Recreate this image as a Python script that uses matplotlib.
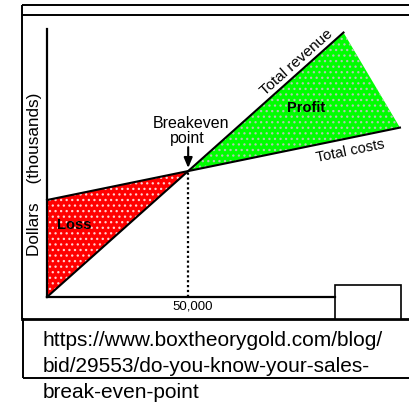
import numpy as np
import matplotlib
matplotlib.use("Agg")
import matplotlib.pyplot as plt
from matplotlib.patches import Rectangle
from matplotlib.transforms import ScaledTranslation

plt.rcParams['font.family'] = ['Liberation Sans', 'DejaVu Sans']
plt.rcParams['hatch.linewidth'] = 0.9

# Breakeven chart: units sold vs dollars (thousands)
breakeven_units = 50000
breakeven_dollars = 500

revenue_units = [0, 50000, 105000]
revenue_dollars = [0, 500, 1050]

cost_units = [0, 50000, 125000]
cost_dollars = [385, 500, 672.5]

x_ticks = [breakeven_units]
x_tick_labels = ['50,000']

source_lines = ['https://www.boxtheorygold.com/blog/',
                'bid/29553/do-you-know-your-sales-',
                'break-even-point']

W, H = 409, 403
fig = plt.figure(figsize=(W / 100, H / 100), dpi=100)
fig.patch.set_facecolor('white')

# frame and caption box, drawn in pixel space
frame = fig.add_axes([0, 0, 1, 1])
frame.set_xlim(0, W)
frame.set_ylim(H, 0)
frame.axis('off')
kw = dict(color='black', lw=1.4, solid_capstyle='butt')
frame.plot([22, W], [5, 5], **kw)
frame.plot([22, W], [14.5, 14.5], **kw)
frame.plot([22, 22], [5, 319], **kw)
frame.plot([22, W], [318.5, 318.5], color='black', lw=2.0)
frame.plot([23, 23], [318, 377.5], **kw)
frame.plot([23, W], [377.5, 377.5], **kw)

# chart area
ax = fig.add_axes([47 / W, (H - 297) / H, 288 / W, 268 / H])
ax.set_facecolor('none')
ax.set_xlim(0, 102000)
ax.set_ylim(0, 1064)
for s in ['top', 'right']:
    ax.spines[s].set_visible(False)
for s in ['left', 'bottom']:
    ax.spines[s].set_linewidth(1.6)
ax.set_yticks([])
ax.set_xticks(x_ticks)
ax.set_xticklabels(x_tick_labels, fontsize=9.5)
ax.tick_params(axis='x', length=0, pad=2.5)
for lab in ax.get_xticklabels():
    lab.set_transform(lab.get_transform() + ScaledTranslation(0.04, 0, fig.dpi_scale_trans))

# loss and profit regions, with a speckled screen over the flat colour
loss_x = [revenue_units[0], cost_units[0], breakeven_units]
loss_y = [revenue_dollars[0], cost_dollars[0], breakeven_dollars]
profit_x = [breakeven_units, revenue_units[-1], cost_units[-1]]
profit_y = [breakeven_dollars, revenue_dollars[-1], cost_dollars[-1]]

ax.fill(loss_x, loss_y, facecolor='#ff0000', lw=0, zorder=1, clip_on=False)
ax.fill(loss_x, loss_y, facecolor='none', edgecolor='#ffd0d0', hatch='...',
        lw=0, zorder=1.5, clip_on=False)
ax.fill(profit_x, profit_y, facecolor='#00ff00', lw=0, zorder=1, clip_on=False)
ax.fill(profit_x, profit_y, facecolor='none', edgecolor='#b0c8b0', hatch='...',
        lw=0, zorder=1.5, clip_on=False)

ax.plot(revenue_units, revenue_dollars, color='black', lw=1.5, zorder=3, clip_on=False)
ax.plot(cost_units, cost_dollars, color='black', lw=1.5, zorder=3, clip_on=False)
ax.plot([breakeven_units, breakeven_units], [0, breakeven_dollars],
        color='black', lw=1.6, ls=(0, (1, 1.2)), zorder=2)


def angle_of(xs, ys):
    p0 = ax.transData.transform((xs[0], ys[0]))
    p1 = ax.transData.transform((xs[-1], ys[-1]))
    return np.degrees(np.arctan2(p1[1] - p0[1], p1[0] - p0[0]))


ax.text(88500, 933, 'Total revenue', fontsize=11, ha='center', va='center',
        rotation=angle_of(revenue_units, revenue_dollars), rotation_mode='anchor')
ax.text(107300, 580, 'Total costs', fontsize=10.5, ha='center', va='center',
        rotation=angle_of(cost_units, cost_dollars), rotation_mode='anchor')
ax.text(91700, 750, 'Profit', fontsize=10.5, fontweight='bold', ha='center', va='center')
ax.text(9600, 286, 'Loss', fontsize=10.5, fontweight='bold', ha='center', va='center')

ax.text(51000, 687, 'Breakeven', fontsize=11.5, ha='center', va='center')
ax.text(49800, 630, 'point', fontsize=11.5, ha='center', va='center')
ax.annotate('', xy=(breakeven_units, breakeven_dollars + 12), xytext=(breakeven_units, 595),
            arrowprops=dict(arrowstyle='-|>,head_length=0.6,head_width=0.25',
                            color='black', lw=1.5, shrinkA=0, shrinkB=0))

fig.text(35 / W, 1 - 174 / H, 'Dollars    (thousands)', fontsize=12.3,
         rotation=90, ha='center', va='center')

# small blank box over the end of the axis
frame.add_patch(Rectangle((335, 285), 66, 33.5, facecolor='white',
                          edgecolor='black', lw=1.2, zorder=5))

for i, line in enumerate(source_lines):
    fig.text(43 / W, 1 - (346.5 + 26 * i) / H, line, fontsize=15, va='baseline', ha='left')

fig.savefig('out.png', dpi=100)
